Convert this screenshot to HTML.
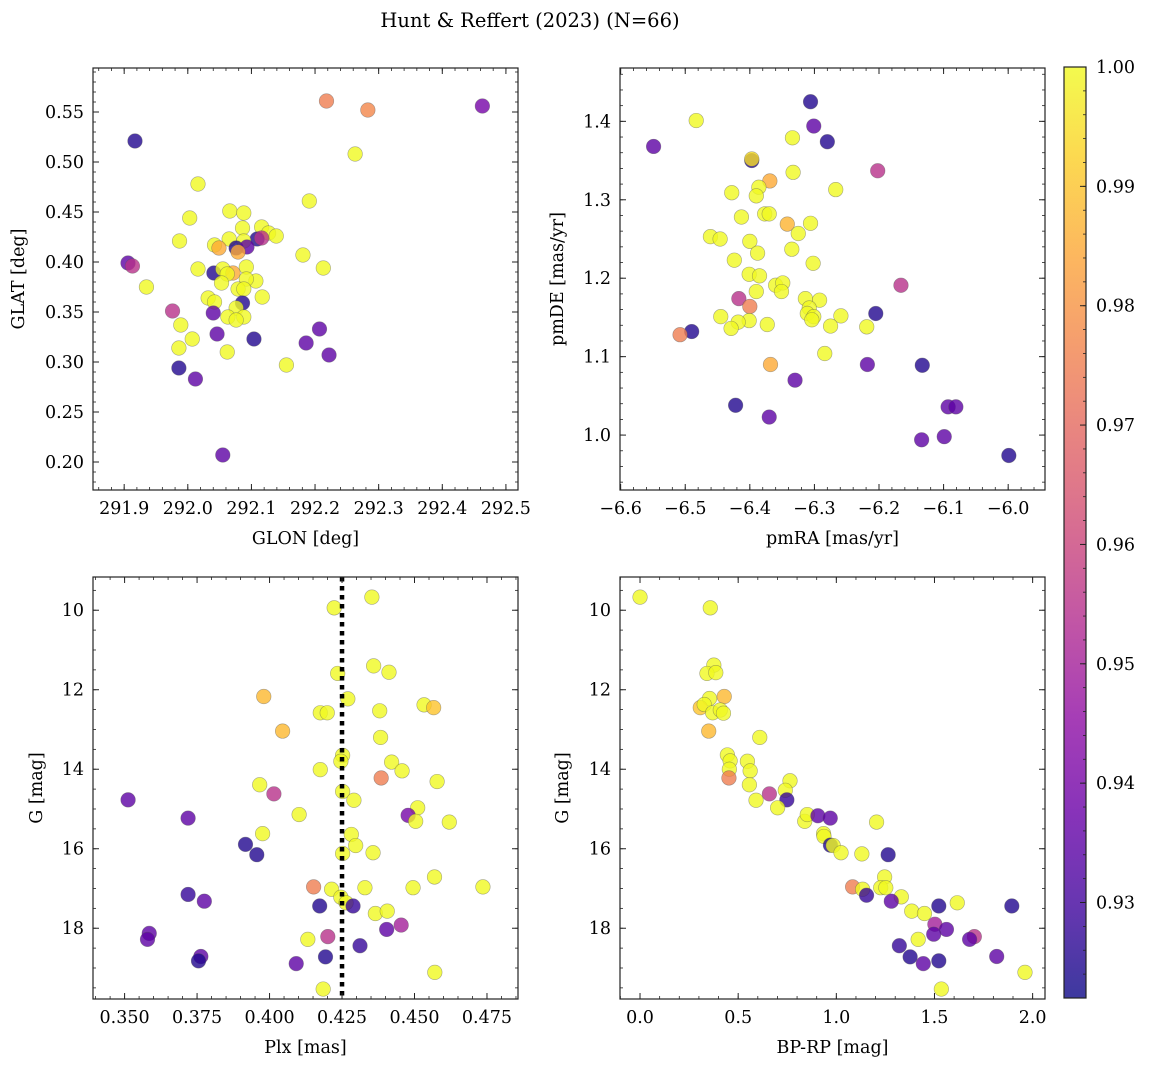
<!DOCTYPE html>
<html><head><meta charset="utf-8"><style>
body{margin:0;background:#fff;}
svg{display:block;font-family:"DejaVu Serif","Liberation Serif",serif;}
</style></head><body>
<svg id="fig" width="1149" height="1067" viewBox="0 0 1149 1067" xmlns="http://www.w3.org/2000/svg">
<text x="530" y="27" font-size="19.5" text-anchor="middle">Hunt &amp; Reffert (2023) (N=66)</text>
</svg>
<script>
// ---- data: [x, y, membership probability] ----
const skyPoints = [
[292.218,0.561,0.975],[292.283,0.552,0.977],[292.463,0.556,0.94],[291.917,0.521,0.925],[292.263,0.508,1],
[292.016,0.478,1],[292.191,0.461,1],[292.003,0.444,1],[292.066,0.451,1],[292.088,0.449,1],
[292.086,0.434,1],[292.116,0.435,1],[292.127,0.429,1],[292.139,0.426,1],[292.109,0.423,0.925],
[292.116,0.424,0.955],[291.987,0.421,1],[292.065,0.423,1],[292.088,0.421,1],[292.042,0.417,1],
[292.049,0.414,0.985],[292.076,0.414,0.925],[292.093,0.415,0.935],[292.079,0.410,0.985],[292.181,0.407,1],
[291.906,0.399,0.935],[291.913,0.396,0.955],[292.016,0.393,1],[292.213,0.394,1],[292.092,0.395,1],
[292.041,0.389,0.925],[292.055,0.393,1],[292.071,0.389,0.985],[292.062,0.388,1],[292.107,0.381,1],
[292.092,0.383,1],[292.053,0.379,1],[291.935,0.375,1],[292.079,0.373,1],[292.088,0.373,1],
[292.117,0.365,1],[292.032,0.364,1],[292.042,0.360,1],[292.086,0.359,0.925],[292.076,0.354,1],
[291.976,0.351,0.955],[292.040,0.349,0.935],[292.063,0.345,1],[292.088,0.345,1],[292.076,0.342,1],
[291.989,0.337,1],[292.046,0.328,0.935],[292.207,0.333,0.935],[292.007,0.323,1],[292.104,0.323,0.925],
[292.186,0.319,0.935],[291.986,0.314,1],[292.062,0.310,1],[292.222,0.307,0.935],[292.155,0.297,1],
[291.986,0.294,0.925],[292.012,0.283,0.935],[292.055,0.207,0.935]
];
const pmPoints = [
[-6.306,1.425,0.925],[-6.301,1.394,0.935],[-6.280,1.374,0.925],[-6.549,1.368,0.935],[-6.483,1.401,1],
[-6.397,1.350,0.925],[-6.397,1.352,0.995],[-6.334,1.379,1],[-6.333,1.335,1],[-6.202,1.337,0.955],
[-6.369,1.324,0.985],[-6.267,1.313,1],[-6.386,1.316,1],[-6.428,1.309,1],[-6.390,1.305,1],
[-6.413,1.278,1],[-6.377,1.282,1],[-6.370,1.282,1],[-6.342,1.269,0.987],[-6.306,1.270,1],
[-6.325,1.257,1],[-6.461,1.253,1],[-6.446,1.250,1],[-6.400,1.247,1],[-6.335,1.237,1],
[-6.388,1.232,1],[-6.424,1.223,1],[-6.302,1.219,1],[-6.401,1.205,1],[-6.385,1.203,1],
[-6.166,1.191,0.955],[-6.360,1.191,1],[-6.349,1.194,1],[-6.351,1.183,1],[-6.390,1.183,1],
[-6.417,1.174,0.955],[-6.314,1.174,1],[-6.292,1.172,1],[-6.400,1.164,0.975],[-6.308,1.162,1],
[-6.311,1.155,1],[-6.301,1.151,1],[-6.304,1.147,1],[-6.205,1.155,0.925],[-6.259,1.152,1],
[-6.445,1.151,1],[-6.401,1.146,1],[-6.418,1.144,1],[-6.429,1.136,1],[-6.373,1.141,1],
[-6.275,1.139,1],[-6.219,1.138,1],[-6.490,1.132,0.925],[-6.508,1.128,0.975],[-6.284,1.104,1],
[-6.368,1.090,0.985],[-6.218,1.090,0.935],[-6.133,1.089,0.925],[-6.330,1.070,0.935],[-6.422,1.038,0.925],
[-6.093,1.036,0.935],[-6.081,1.036,0.935],[-6.370,1.023,0.935],[-6.134,0.994,0.935],[-6.099,0.998,0.935],
[-5.999,0.974,0.925]
];
const plxPoints = [
[0.4353,9.67,1],[0.4223,9.94,1],[0.4359,11.40,1],[0.4412,11.56,1],[0.4235,11.59,1],
[0.3980,12.17,0.988],[0.4270,12.23,1],[0.4175,12.58,1],[0.4199,12.58,1],[0.4380,12.53,1],
[0.4533,12.38,1],[0.4566,12.45,0.99],[0.4045,13.04,0.988],[0.4383,13.20,1],[0.4252,13.65,1],
[0.4246,13.80,1],[0.4421,13.82,1],[0.4175,14.01,1],[0.4457,14.04,1],[0.4385,14.22,0.975],
[0.4578,14.31,1],[0.3966,14.39,1],[0.4015,14.62,0.955],[0.4252,14.56,1],[0.3512,14.77,0.935],
[0.4291,14.78,1],[0.4511,14.97,1],[0.3719,15.23,0.935],[0.4102,15.14,1],[0.4478,15.16,0.94],
[0.4504,15.31,1],[0.4620,15.33,1],[0.3976,15.62,1],[0.4282,15.64,1],[0.3917,15.89,0.925],
[0.4297,15.92,1],[0.3956,16.15,0.925],[0.4252,16.12,1],[0.4357,16.10,1],[0.4569,16.71,1],
[0.4152,16.96,0.975],[0.4214,17.02,1],[0.4329,16.98,1],[0.4495,16.98,1],[0.4736,16.96,1],
[0.3719,17.15,0.928],[0.4246,17.22,1],[0.3775,17.32,0.935],[0.4264,17.36,1],[0.4173,17.44,0.925],
[0.4288,17.44,0.928],[0.4365,17.63,1],[0.4406,17.57,1],[0.4454,17.92,0.95],[0.4404,18.03,0.935],
[0.3585,18.13,0.935],[0.3579,18.28,0.935],[0.4132,18.28,1],[0.4201,18.21,0.955],[0.4312,18.44,0.928],
[0.3763,18.71,0.935],[0.3755,18.82,0.925],[0.4193,18.72,0.925],[0.4092,18.89,0.935],[0.4570,19.11,1],
[0.4185,19.53,1]
];
const cmdPoints = [
[0.000,9.67,1],[0.358,9.94,1],[0.376,11.38,1],[0.341,11.59,1],[0.386,11.57,1],
[0.429,12.17,0.988],[0.354,12.22,1],[0.307,12.45,0.99],[0.327,12.37,1],[0.370,12.58,1],
[0.409,12.51,1],[0.425,12.59,1],[0.350,13.04,0.988],[0.610,13.20,1],[0.445,13.64,1],
[0.459,13.79,1],[0.547,13.80,1],[0.455,14.00,1],[0.561,14.04,1],[0.453,14.22,0.975],
[0.764,14.29,1],[0.557,14.39,1],[0.740,14.53,1],[0.659,14.62,0.955],[0.748,14.77,0.928],
[0.591,14.78,1],[0.701,14.97,1],[0.839,15.31,1],[0.852,15.14,1],[0.906,15.17,0.935],
[0.969,15.23,0.935],[1.205,15.33,1],[0.935,15.62,1],[0.937,15.69,1],[0.970,15.91,0.925],
[0.984,15.92,1],[1.024,16.10,1],[1.130,16.13,1],[1.264,16.15,0.925],[1.246,16.71,1],
[1.083,16.96,0.975],[1.134,17.02,1],[1.226,16.98,1],[1.252,16.98,1],[1.154,17.17,0.928],
[1.331,17.21,1],[1.280,17.32,0.935],[1.522,17.44,0.925],[1.616,17.36,1],[1.894,17.44,0.925],
[1.384,17.57,1],[1.449,17.63,1],[1.502,17.90,0.95],[1.561,18.03,0.935],[1.496,18.15,0.935],
[1.417,18.28,1],[1.703,18.21,0.955],[1.679,18.28,0.935],[1.321,18.44,0.928],[1.376,18.72,0.925],
[1.817,18.71,0.935],[1.443,18.89,0.935],[1.522,18.82,0.925],[1.961,19.11,1],[1.535,19.53,1]
];
const plxMedian = [0.425];
const glonTicks = [291.9,292.0,292.1,292.2,292.3,292.4,292.5];
const glatTicks = [0.20,0.25,0.30,0.35,0.40,0.45,0.50,0.55];
const pmraTicks = [-6.6,-6.5,-6.4,-6.3,-6.2,-6.1,-6.0];
const pmdeTicks = [1.0,1.1,1.2,1.3,1.4];
const plxTicks = [0.350,0.375,0.400,0.425,0.450,0.475];
const gTicks = [10,12,14,16,18];
const colorTicks = [0.93,0.94,0.95,0.96,0.97,0.98,0.99,1.00];

const NS='http://www.w3.org/2000/svg';
const svg=document.getElementById('fig');
function mk(tag,attrs,parent){const e=document.createElementNS(NS,tag);for(const k in attrs)e.setAttribute(k,attrs[k]);(parent||svg).appendChild(e);return e;}
const stops=['#0d0887','#41049d','#6a00a8','#8f0da4','#b12a90','#cc4778','#e16462','#f2844b','#fca636','#fcce25','#f0f921'];
function hex(h){return [parseInt(h.slice(1,3),16),parseInt(h.slice(3,5),16),parseInt(h.slice(5,7),16)];}
const CMIN=0.922,CMAX=1.0;
function plasma(t){t=Math.max(0,Math.min(1,t));const f=t*10,i=Math.min(9,Math.floor(f)),u=f-i;const a=hex(stops[i]),b=hex(stops[i+1]);return 'rgb('+a.map((v,k)=>Math.round(v+(b[k]-v)*u)).join(',')+')';}
function col(p){return plasma((p-CMIN)/(CMAX-CMIN));}
function fmt(v,d){return v.toFixed(d).replace('-','\u2212');}
const FS=17.5;

function panel(o){
  const g=mk('g',{});
  
  
  const X=v=>o.L+(v-o.x0)/(o.x1-o.x0)*(o.R-o.L);
  const Y=v=>o.T+(v-o.y0)/(o.y1-o.y0)*(o.B-o.T);
  o.pts.forEach(p=>{
    const c=mk('circle',{cx:X(p[0]),cy:Y(p[1]),r:7.3,fill:col(p[2]),'fill-opacity':0.8,stroke:'#555','stroke-opacity':0.5,'stroke-width':0.6},g);
    
    
  });
  if(o.vline){o.vline.forEach(v=>{const l=mk('line',{x1:X(v),x2:X(v),y1:o.T,y2:o.B,stroke:'#000','stroke-width':4.5,'stroke-dasharray':'4.5 4.5'},g);
    
    });}
  const fr=mk('rect',{x:o.L,y:o.T,width:o.R-o.L,height:o.B-o.T,fill:'none',stroke:'#222','stroke-width':1.2},g);
  
  
  const lo=Math.min(o.x0,o.x1),hi=Math.max(o.x0,o.x1);
  for(let k=Math.ceil(lo/o.xm-1e-6);k*o.xm<=hi+1e-9;k++){const x=X(k*o.xm);
    mk('line',{x1:x,x2:x,y1:o.B,y2:o.B-3,stroke:'#222','stroke-width':0.8},g);mk('line',{x1:x,x2:x,y1:o.T,y2:o.T+3,stroke:'#222','stroke-width':0.8},g);}
  const ylo=Math.min(o.y0,o.y1),yhi=Math.max(o.y0,o.y1);
  for(let k=Math.ceil(ylo/o.ym-1e-6);k*o.ym<=yhi+1e-9;k++){const y=Y(k*o.ym);
    mk('line',{x1:o.L,x2:o.L+3,y1:y,y2:y,stroke:'#222','stroke-width':0.8},g);mk('line',{x1:o.R,x2:o.R-3,y1:y,y2:y,stroke:'#222','stroke-width':0.8},g);}
  o.xt.forEach(v=>{const x=X(v);
    mk('line',{x1:x,x2:x,y1:o.B,y2:o.B-6,stroke:'#222','stroke-width':1},g);mk('line',{x1:x,x2:x,y1:o.T,y2:o.T+6,stroke:'#222','stroke-width':1},g);
    const t=mk('text',{x:x,y:o.B+24,'font-size':FS,'text-anchor':'middle'},g);t.textContent=fmt(v,o.xd);
    
    });
  o.yt.forEach(v=>{const y=Y(v);
    mk('line',{x1:o.L,x2:o.L+6,y1:y,y2:y,stroke:'#222','stroke-width':1},g);mk('line',{x1:o.R,x2:o.R-6,y1:y,y2:y,stroke:'#222','stroke-width':1},g);
    const t=mk('text',{x:o.L-9,y:y+6,'font-size':FS,'text-anchor':'end'},g);t.textContent=fmt(v,o.yd);
    
    });
  const xl=mk('text',{x:(o.L+o.R)/2,y:o.B+54,'font-size':FS,'text-anchor':'middle'},g);xl.textContent=o.xlabel;
  
  
  const yl=mk('text',{x:0,y:0,'font-size':FS,'text-anchor':'middle',transform:'translate('+o.ylx+','+(o.T+o.B)/2+') rotate(-90)'},g);yl.textContent=o.ylabel;
  
  
}
panel({name:'sky-position-panel',L:93,R:518,T:68,B:490,x0:291.851,x1:292.519,y0:0.594,y1:0.172,xm:0.02,ym:0.01,xt:glonTicks,yt:glatTicks,xd:1,yd:2,pts:skyPoints,xlabel:'GLON [deg]',ylabel:'GLAT [deg]',ylx:24});
panel({name:'proper-motion-panel',L:620,R:1045,T:68,B:490,x0:-6.601,x1:-5.943,y0:1.468,y1:0.930,xm:0.02,ym:0.02,xt:pmraTicks,yt:pmdeTicks,xd:1,yd:1,pts:pmPoints,xlabel:'pmRA [mas/yr]',ylabel:'pmDE [mas/yr]',ylx:563});
panel({name:'parallax-magnitude-panel',L:93,R:518,T:577,B:999,x0:0.3391,x1:0.4857,y0:9.164,y1:19.78,xm:0.005,ym:0.5,xt:plxTicks,yt:gTicks,xd:3,yd:0,pts:plxPoints,vline:plxMedian,xlabel:'Plx [mas]',ylabel:'G [mag]',ylx:42});
panel({name:'color-magnitude-panel',L:620,R:1045,T:577,B:999,x0:-0.102,x1:2.063,y0:9.164,y1:19.78,xm:0.1,ym:0.5,xt:[0,0.5,1,1.5,2],yt:gTicks,xd:1,yd:0,pts:cmdPoints,xlabel:'BP-RP [mag]',ylabel:'G [mag]',ylx:568});

// colorbar
const CB={L:1064,R:1086,T:67,B:998};
const defs=mk('defs',{});
const lg=mk('linearGradient',{id:'cbg',x1:0,y1:1,x2:0,y2:0},defs);
for(let i=0;i<=20;i++)mk('stop',{offset:i/20,'stop-color':plasma(i/20)},lg);
const cbg=mk('g',{});


mk('rect',{x:CB.L,y:CB.T,width:CB.R-CB.L,height:CB.B-CB.T,fill:'url(#cbg)','fill-opacity':0.8},cbg);
mk('rect',{x:CB.L,y:CB.T,width:CB.R-CB.L,height:CB.B-CB.T,fill:'none',stroke:'#222','stroke-width':1.2},cbg);
const CY=v=>CB.B-(v-CMIN)/(CMAX-CMIN)*(CB.B-CB.T);
for(let k=Math.ceil(CMIN/0.002);k*0.002<=CMAX+1e-9;k++){const y=CY(k*0.002);mk('line',{x1:CB.R,x2:CB.R-3,y1:y,y2:y,stroke:'#222','stroke-width':0.8},cbg);}
colorTicks.forEach(v=>{const y=CY(v);mk('line',{x1:CB.R,x2:CB.R-6,y1:y,y2:y,stroke:'#222','stroke-width':1},cbg);
  const t=mk('text',{x:1096,y:y+6,'font-size':FS},cbg);t.textContent=v.toFixed(2);
  
  });
</script>
</body></html>
